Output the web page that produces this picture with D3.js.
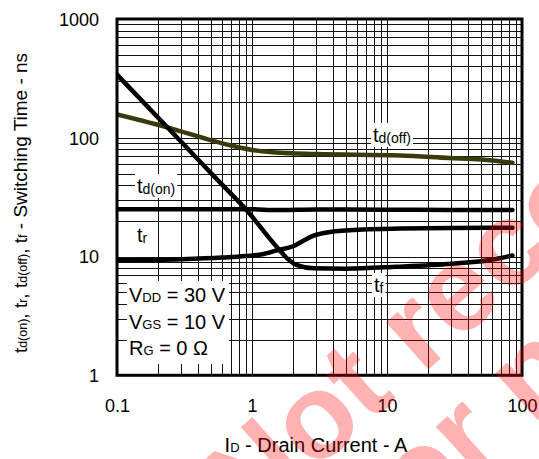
<!DOCTYPE html>
<html><head><meta charset="utf-8">
<script src="https://cdn.jsdelivr.net/npm/d3@7"></script>
<style>
html,body{margin:0;padding:0;background:#fff;}
svg{display:block;font-family:"Liberation Sans",Arial,sans-serif;}
</style></head>
<body>
<svg id="c" width="539" height="459"></svg>
<script>
// ---- data ----
const xTickLabels = ["0.1", "1", "10", "100"];
const yTickLabels = ["1", "10", "100", "1000"];
const xTickValues = [0.1, 1, 10, 100];
const yTickValues = [1, 10, 100, 1000];

const tdOnX  = [0.1, 0.5, 1, 1.5, 3, 10, 30, 85];
const tdOnY  = [25, 25, 25, 24.6, 24.9, 24.8, 24.7, 24.7];

const trX    = [0.1, 0.3, 0.6, 0.9, 1.22, 1.53, 2.02, 2.4, 2.86, 3.79, 6.65, 12.5, 30, 85];
const trY    = [9.3, 9.5, 9.8, 10.1, 10.5, 11.3, 12.2, 13.6, 15.0, 16.1, 16.9, 17.2, 17.4, 17.5];

const tfX    = [0.1, 0.3, 0.6, 0.9, 1.53, 1.83, 2.16, 2.85, 5, 11.8, 30, 60, 85];
const tfY    = [340, 92, 40.3, 25, 12, 9.6, 8.45, 7.95, 7.9, 8.2, 8.7, 9.4, 10.2];

const tdOffX = [0.1, 0.25, 0.47, 0.7, 1, 1.5, 3, 12.5, 29, 50, 85];
const tdOffY = [157, 120, 97, 86, 79, 75, 73, 71, 67.5, 65.5, 61.5];

const conditions = [["V","DD"," = 30 V"],["V","GS"," = 10 V"],["R","G"," = 0 Ω"]];

// ---- chart ----
const svg = d3.select("#c");
const L = 117, R = 522, T = 19, B = 375.3;
const x = d3.scaleLog().domain([0.1, 100]).range([L, R]);
const y = d3.scaleLog().domain([1, 1000]).range([B, T]);

const minorX = [], minorY = [];
for (const d of [0.1, 1, 10]) for (let k = 1; k <= 9; k++) minorX.push(+(d * k).toPrecision(3));
minorX.push(100);
for (const d of [1, 10, 100]) for (let k = 1; k <= 9; k++) minorY.push(+(d * k).toPrecision(3));
minorY.push(1000);

// grid via axes
const gx = svg.append("g").attr("transform", `translate(0,${B})`)
  .call(d3.axisBottom(x).tickValues(minorX).tickSize(-(B - T)).tickFormat(""));
gx.select(".domain").remove();
gx.selectAll("line").attr("stroke", "#111").attr("stroke-width", 1).attr("shape-rendering", "crispEdges");

const gy = svg.append("g").attr("transform", `translate(${L},0)`)
  .call(d3.axisLeft(y).tickValues(minorY).tickSize(-(R - L)).tickFormat(""));
gy.select(".domain").remove();
gy.selectAll("line").attr("stroke", "#111").attr("stroke-width", 1).attr("shape-rendering", "crispEdges");

// tick labels via axes
const ax = svg.append("g").attr("transform", `translate(0,${B})`)
  .call(d3.axisBottom(x).tickValues(xTickValues).tickSize(0).tickPadding(0)
    .tickFormat((d, i) => xTickLabels[i]));
ax.select(".domain").remove();
ax.selectAll("text").attr("font-size", 18).attr("fill", "#000")
  .attr("font-family", "Liberation Sans, Arial, sans-serif").attr("dy", null).attr("y", 37);

const ay = svg.append("g").attr("transform", `translate(99,0)`)
  .call(d3.axisLeft(y).tickValues(yTickValues).tickSize(0).tickPadding(0)
    .tickFormat((d, i) => yTickLabels[i]));
ay.select(".domain").remove();
ay.selectAll("text").attr("font-size", 18).attr("fill", "#000")
  .attr("font-family", "Liberation Sans, Arial, sans-serif").attr("x", 0).attr("dy", "0.35em");

// curves
svg.append("clipPath").attr("id", "pc").append("rect")
  .attr("x", L).attr("y", T).attr("width", R - L).attr("height", B - T);
const line = d3.line().x(d => x(d[0])).y(d => y(d[1])).curve(d3.curveMonotoneX);
const series = [
  [tdOffX, tdOffY, "#3a390c"],
  [tdOnX, tdOnY, "#000"],
  [trX, trY, "#000"],
  [tfX, tfY, "#000"]
];
const curves = svg.append("g").attr("clip-path", "url(#pc)");
series.forEach(([xs, ys, col]) => {
  curves.append("path").datum(xs.map((v, i) => [v, ys[i]]))
    .attr("d", line).attr("fill", "none").attr("stroke", col)
    .attr("stroke-width", 4.5).attr("stroke-linecap", "round").attr("stroke-linejoin", "round");
});

// frame
svg.append("rect").attr("x", L).attr("y", T).attr("width", R - L).attr("height", B - T)
  .attr("fill", "none").attr("stroke", "#000").attr("stroke-width", 3);

// labels with white boxes
function subLabel(px, py, main, sub, fs, sfs) {
  const g = svg.append("g");
  const t = g.append("text").attr("x", px).attr("y", py).attr("font-size", fs).attr("fill", "#000");
  t.append("tspan").text(main);
  t.append("tspan").attr("font-size", sfs).attr("dy", 1).text(sub);
  const bb = t.node().getBBox();
  g.insert("rect", "text").attr("x", bb.x - 2).attr("y", bb.y - 1)
    .attr("width", bb.width + 4).attr("height", bb.height + 2).attr("fill", "#fff");
}
subLabel(137, 193, "t", "d(on)", 20, 14);
subLabel(137, 242, "t", "r", 20, 14);
subLabel(373, 142, "t", "d(off)", 20, 14);
subLabel(374, 292, "t", "f", 20, 14);

// conditions box
svg.append("rect").attr("x", 127).attr("y", 281).attr("width", 102).attr("height", 83).attr("fill", "#fff");
conditions.forEach((c, i) => {
  const t = svg.append("text").attr("x", 129).attr("y", 302 + i * 26.5).attr("font-size", 20).attr("fill", "#000");
  t.append("tspan").text(c[0]);
  t.append("tspan").attr("font-size", 13).text(c[1]);
  t.append("tspan").text(c[2]);
});

// axis titles
const xt = svg.append("text").attr("x", 316).attr("y", 452).attr("text-anchor", "middle")
  .attr("font-size", 20).attr("fill", "#000");
xt.append("tspan").text("I");
xt.append("tspan").attr("font-size", 13).text("D");
xt.append("tspan").text(" - Drain Current - A");

const yt = svg.append("text").attr("transform", "translate(27,203) rotate(-90)")
  .attr("text-anchor", "middle").attr("font-size", 19).attr("fill", "#000");
[["t",0],["d(on)",1],[", t",0],["r",1],[", t",0],["d(off)",1],[", t",0],["f",1],[" - Switching Time - ns",0]]
  .forEach(([s, sub]) => { yt.append("tspan").attr("font-size", sub ? 12.5 : 19).text(s); });

// watermark
const wm = svg.append("g").attr("fill", "#ff0000").attr("fill-opacity", 0.3)
  .attr("font-family", "Liberation Sans, Arial, sans-serif").attr("font-weight", "bold").attr("font-size", 120);
wm.append("text").attr("transform", "translate(249,531) rotate(-42)").text("Not recommended");
wm.append("text").attr("transform", "translate(388,555) rotate(-42)").text("for new design");
</script>
</body></html>
